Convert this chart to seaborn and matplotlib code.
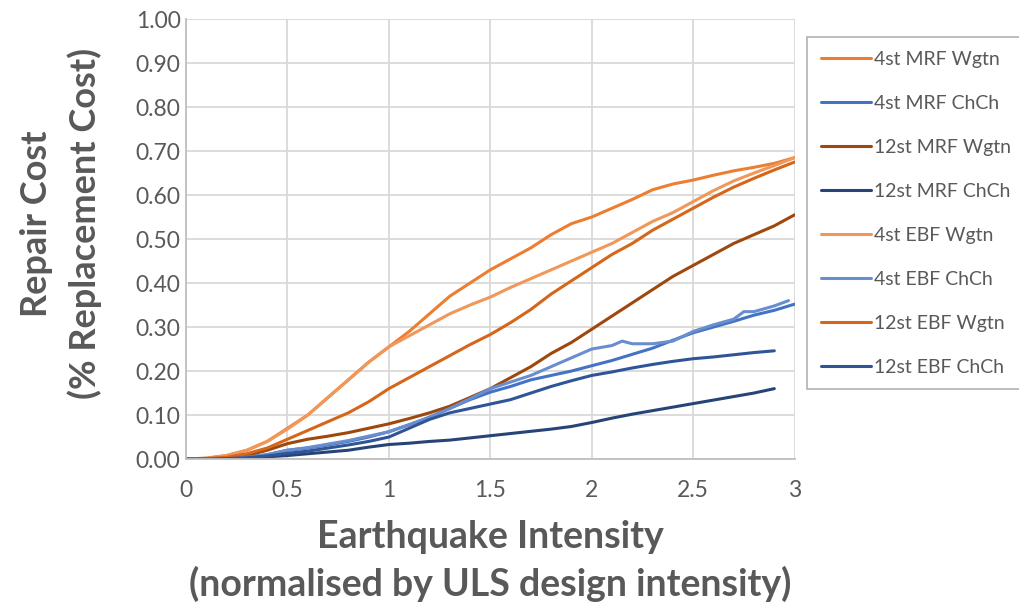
import matplotlib
matplotlib.use("Agg")
import matplotlib.pyplot as plt
import seaborn as sns
import pandas as pd

# Earthquake intensity (normalised by ULS design intensity)
intensity = [0.0, 0.1, 0.2, 0.3, 0.4, 0.5, 0.6, 0.7, 0.8, 0.9, 1.0,
             1.1, 1.2, 1.3, 1.4, 1.5, 1.6, 1.7, 1.8, 1.9, 2.0,
             2.1, 2.2, 2.3, 2.4, 2.5, 2.6, 2.7, 2.8, 2.9, 3.0]

# Repair cost as a fraction of replacement cost
mrf4_wgtn = [0.0, 0.002, 0.008, 0.02, 0.04, 0.07, 0.10, 0.14, 0.18, 0.22, 0.255,
             0.29, 0.33, 0.37, 0.40, 0.43, 0.455, 0.48, 0.51, 0.535, 0.55,
             0.57, 0.59, 0.612, 0.625, 0.634, 0.645, 0.655, 0.663, 0.672, 0.685]
mrf4_chch = [0.0, 0.0, 0.001, 0.004, 0.01, 0.02, 0.025, 0.032, 0.04, 0.05, 0.062,
             0.078, 0.095, 0.115, 0.135, 0.152, 0.165, 0.18, 0.19, 0.20, 0.212,
             0.224, 0.238, 0.252, 0.27, 0.287, 0.30, 0.313, 0.327, 0.338, 0.352]
mrf12_wgtn = [0.0, 0.0, 0.002, 0.008, 0.02, 0.035, 0.045, 0.052, 0.06, 0.07, 0.08,
              0.092, 0.105, 0.12, 0.14, 0.16, 0.185, 0.21, 0.24, 0.265, 0.295,
              0.325, 0.355, 0.385, 0.415, 0.44, 0.465, 0.49, 0.51, 0.53, 0.555]
mrf12_chch = [0.0, 0.0, 0.0, 0.002, 0.005, 0.008, 0.012, 0.016, 0.02, 0.027, 0.033,
              0.036, 0.04, 0.043, 0.048, 0.053, 0.058, 0.063, 0.068, 0.074, 0.083,
              0.093, 0.102, 0.11, 0.118, 0.126, 0.134, 0.142, 0.15, 0.16]
ebf4_wgtn = [0.0, 0.002, 0.008, 0.02, 0.04, 0.068, 0.10, 0.14, 0.18, 0.22, 0.255,
             0.28, 0.305, 0.33, 0.35, 0.368, 0.39, 0.41, 0.43, 0.45, 0.47,
             0.49, 0.515, 0.54, 0.56, 0.585, 0.61, 0.632, 0.65, 0.667, 0.685]
ebf4_chch_x = [0.0, 0.1, 0.2, 0.3, 0.4, 0.5, 0.6, 0.7, 0.8, 0.9, 1.0,
               1.1, 1.2, 1.3, 1.4, 1.5, 1.6, 1.7, 1.8, 1.9, 2.0,
               2.1, 2.15, 2.2, 2.3, 2.4, 2.5, 2.6, 2.7, 2.75, 2.8, 2.9, 2.97]
ebf4_chch = [0.0, 0.0, 0.001, 0.004, 0.01, 0.02, 0.026, 0.034, 0.042, 0.052, 0.062,
             0.078, 0.095, 0.115, 0.137, 0.16, 0.175, 0.19, 0.21, 0.23, 0.25,
             0.258, 0.268, 0.262, 0.262, 0.268, 0.29, 0.305, 0.318, 0.335, 0.335, 0.348, 0.36]
ebf12_wgtn = [0.0, 0.001, 0.004, 0.012, 0.025, 0.045, 0.065, 0.085, 0.105, 0.13, 0.16,
              0.185, 0.21, 0.235, 0.26, 0.283, 0.31, 0.34, 0.375, 0.405, 0.435,
              0.465, 0.49, 0.52, 0.545, 0.57, 0.595, 0.618, 0.638, 0.657, 0.675]
ebf12_chch = [0.0, 0.0, 0.001, 0.003, 0.007, 0.013, 0.018, 0.025, 0.032, 0.04, 0.05,
              0.07, 0.09, 0.105, 0.115, 0.125, 0.135, 0.15, 0.165, 0.178, 0.19,
              0.198, 0.207, 0.215, 0.222, 0.228, 0.232, 0.237, 0.242, 0.246]

labels = ["4st MRF Wgtn", "4st MRF ChCh", "12st MRF Wgtn", "12st MRF ChCh",
          "4st EBF Wgtn", "4st EBF ChCh", "12st EBF Wgtn", "12st EBF ChCh"]
colors = ["#ED7D31", "#4472C4", "#9E480E", "#264478",
          "#F1975A", "#698ED0", "#D5661A", "#2F5597"]
y_ticks = [0.0, 0.1, 0.2, 0.3, 0.4, 0.5, 0.6, 0.7, 0.8, 0.9, 1.0]
x_ticks = [0, 0.5, 1, 1.5, 2, 2.5, 3]
x_ticklabels = ["0", "0.5", "1", "1.5", "2", "2.5", "3"]

series = [(intensity, mrf4_wgtn), (intensity, mrf4_chch), (intensity, mrf12_wgtn),
          (intensity, mrf12_chch), (intensity, ebf4_wgtn), (ebf4_chch_x, ebf4_chch),
          (intensity, ebf12_wgtn), (intensity, ebf12_chch)]

frames = []
for name, (xs, ys) in zip(labels, series):
    frames.append(pd.DataFrame({"x": xs[:len(ys)], "y": ys, "series": name}))
df = pd.concat(frames, ignore_index=True)

sns.set_style("white")
plt.rcParams["font.family"] = ["Lato", "DejaVu Sans"]
text_color = "#595959"

fig = plt.figure(figsize=(10.2, 6.04), dpi=100)
ax = fig.add_axes([0.1824, 0.240, 0.5966, 0.7285])

sns.lineplot(data=df, x="x", y="y", hue="series", hue_order=labels,
             palette=dict(zip(labels, colors)), estimator=None, sort=False,
             linewidth=2.2, ax=ax, legend=True)

ax.set_xlim(0, 3)
ax.set_ylim(0, 1.0)
ax.set_xticks(x_ticks)
ax.set_xticklabels(x_ticklabels)
ax.set_yticks(y_ticks)
ax.set_yticklabels([f"{v:.2f}" for v in y_ticks])
ax.tick_params(axis="both", length=0, labelsize=16.5, colors=text_color)
ax.tick_params(axis="x", pad=15)
ax.tick_params(axis="y", pad=4)
ax.grid(True, color="#D9D9D9", linewidth=1.3)
ax.set_axisbelow(True)
for side in ["top", "right"]:
    ax.spines[side].set_visible(False)
for side in ["left", "bottom"]:
    ax.spines[side].set_color("#BFBFBF")
    ax.spines[side].set_linewidth(1.3)

ax.set_xlabel("Earthquake Intensity\n(normalised by ULS design intensity)",
              fontsize=27, fontweight="bold", color=text_color, labelpad=14,
              linespacing=1.38)
ax.set_ylabel("Repair Cost\n(% Replacement Cost)", fontsize=26,
              fontweight="bold", color=text_color, linespacing=1.5)
ax.yaxis.set_label_coords(-0.138, 0.535)

handles, lbls = ax.get_legend_handles_labels()
ax.get_legend().remove()
leg = fig.legend(handles, lbls, loc="upper left",
                 bbox_to_anchor=(807 / 1020, 1 - 37 / 604),
                 bbox_transform=fig.transFigure, borderaxespad=0,
                 fontsize=14, frameon=True, fancybox=False,
                 handlelength=2.6, handletextpad=0.15, labelspacing=1.39,
                 borderpad=0.7, labelcolor=text_color)
leg.get_frame().set_edgecolor("#A6A6A6")
leg.get_frame().set_linewidth(1.3)

fig.savefig("out.png", dpi=100)
